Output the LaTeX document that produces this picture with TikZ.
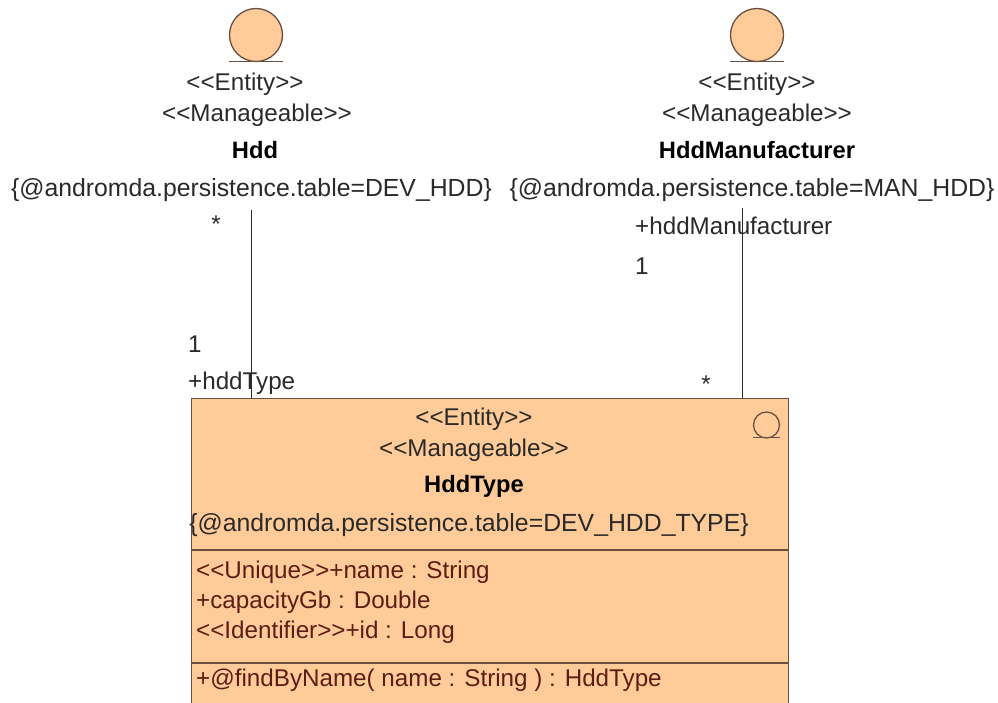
\documentclass[tikz,border=0pt]{standalone}
\usepackage{fontspec}
\setmainfont{Liberation Sans}
\definecolor{fillc}{HTML}{FFCC99}
\definecolor{linec}{HTML}{6B5040}
\definecolor{ink}{HTML}{2A2A2A}
\definecolor{redink}{HTML}{5A1E14}
\tikzset{x=1pt,y=-1pt,
 lab/.style={font=\fontsize{24.2}{26}\selectfont,text=ink,inner sep=0pt},
 tag/.style={lab,font=\fontsize{24.8}{26}\selectfont},
 labb/.style={lab,font=\fontsize{23.7}{26}\selectfont\bfseries,text=black},
 attr/.style={lab,text=redink},
 role/.style={draw=linec,fill=fillc,line width=1.3pt},
 bar/.style={draw=linec,line width=1.3pt},
 conn/.style={draw=ink,line width=.9pt}}
\begin{document}
\begin{tikzpicture}
\useasboundingbox (0,0) rectangle (998,702);
\clip (0,0) rectangle (998,702);
\path[fill=white] (0,0) rectangle (998,702);
\draw[role] (256,35) circle[radius=26.5];
\draw[bar] (229,61.5) -- (283,61.5);
\draw[role] (757,35) circle[radius=26.5];
\draw[bar] (730,61.5) -- (784,61.5);
\node[lab] (e1) at (245,84) {<{}<Entity>{}>};
\node[lab] (m1) at (257,115) {<{}<Manageable>{}>};
\node[labb] (hdd) at (255,150) {Hdd};
\node[tag] (hddt) at (251.5,190) {\{@andromda.persistence.table=DEV\_HDD\}};
\node[lab] (e2) at (757,84) {<{}<Entity>{}>};
\node[lab] (m2) at (757,115) {<{}<Manageable>{}>};
\node[labb] (man) at (757,150) {HddManufacturer};
\node[tag] (mant) at (752,190) {\{@andromda.persistence.table=MAN\_HDD\}};
\node[draw=linec,fill=fillc,line width=1.3pt,minimum width=597pt,minimum height=330pt,inner sep=0pt,anchor=north west] (box) at (191,398) {};
\draw[bar] (191,550) -- (788,550);
\draw[bar] (191,663) -- (788,663);
\draw[bar] (766.5,425) circle[radius=13];
\draw[bar,line width=1.5pt] (753,437.5) -- (780,437.5);
\coordinate (a1) at (251,210);\coordinate (a2) at (251,398);
\coordinate (b1) at (742,208);\coordinate (b2) at (742,398);
\draw[conn] (a1) -- (a2);
\draw[conn] (b1) -- (b2);
\node[lab] (s1) at (216,224) {*};
\node[lab,anchor=west] (o1) at (188,344) {1};
\node[lab,anchor=west] (r1) at (188,383) {+hddType};
\node[lab,anchor=west] (r2) at (635,226) {+hddManufacturer};
\node[lab,anchor=west] (o2) at (635,266) {1};
\node[lab] (s2) at (706,384) {*};
\node[lab] (e3) at (474,419) {<{}<Entity>{}>};
\node[lab] (m3) at (474,450) {<{}<Manageable>{}>};
\node[labb] (ht) at (474,486) {HddType};
\node[tag] (tt) at (469,525) {\{@andromda.persistence.table=DEV\_HDD\_TYPE\}};
\node[attr,anchor=west] (f1) at (196,572) {<{}<Unique>{}>+name : String};
\node[attr,anchor=west] (f2) at (196,602) {+capacityGb : Double};
\node[attr,anchor=west] (f3) at (196,632) {<{}<Identifier>{}>+id : Long};
\node[attr,anchor=west] (f4) at (196,680) {+@findByName( name : String ) : HddType};
\end{tikzpicture}
\end{document}
